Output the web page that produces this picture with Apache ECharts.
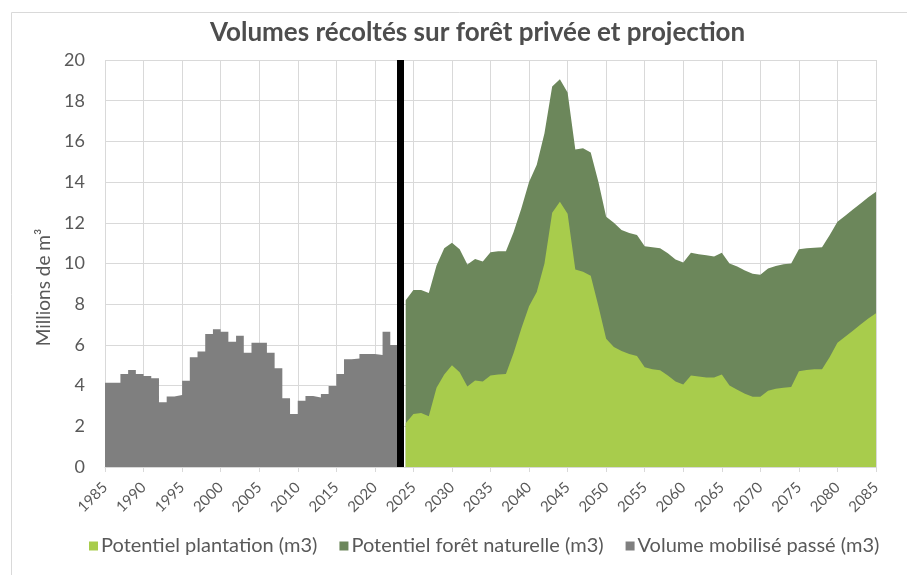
<!DOCTYPE html>
<html>
<head>
<meta charset="utf-8">
<title>Volumes récoltés sur forêt privée et projection</title>
<script src="https://cdn.jsdelivr.net/npm/echarts@6/dist/echarts.min.js"></script>
<style>
  html, body { margin: 0; padding: 0; background: #fff; }
  #chart { width: 907px; height: 575px; }
</style>
</head>
<body>
<div id="chart"></div>
<script>
// historique : 1985 -> 2023 (le dernier point ferme la marche de 2022)
const histStart = 1985
const histValues = [
  4.14, 4.14, 4.57, 4.77, 4.57, 4.47, 4.36, 3.18, 3.46, 3.54,
  4.24, 5.39, 5.67, 6.54, 6.77, 6.65, 6.16, 6.45, 5.62, 6.11,
  6.11, 5.62, 4.85, 3.38, 2.60, 3.26, 3.49, 3.42, 3.59, 3.98,
  4.57, 5.29, 5.33, 5.55, 5.55, 5.50, 6.65, 6.00, 6.00
]

// projection : 2024 -> 2085
const projStart = 2024
const plantation = [
  2.15, 2.60, 2.65, 2.50, 3.90, 4.55, 5.00, 4.65, 3.95, 4.25,
  4.20, 4.50, 4.55, 4.57, 5.60, 6.80, 7.90, 8.60, 10.00, 12.50,
  13.04, 12.45, 9.70, 9.60, 9.40, 7.90, 6.30, 5.90, 5.70, 5.55,
  5.45, 4.90, 4.80, 4.75, 4.50, 4.20, 4.05, 4.50, 4.45, 4.40,
  4.40, 4.55, 4.00, 3.80, 3.60, 3.45, 3.45, 3.75, 3.85, 3.90,
  3.93, 4.70, 4.77, 4.80, 4.80, 5.40, 6.10, 6.40, 6.70, 7.00,
  7.30, 7.55
]
const naturelle = [
  6.05, 6.10, 6.05, 6.05, 6.00, 6.20, 6.02, 6.05, 6.00, 5.97,
  5.90, 6.05, 6.05, 6.03, 5.95, 5.90, 6.10, 6.25, 6.40, 6.20,
  6.01, 5.95, 5.90, 6.06, 6.05, 6.10, 6.00, 6.10, 5.95, 5.95,
  5.95, 5.95, 6.00, 6.00, 6.00, 6.00, 6.00, 6.03, 6.00, 6.00,
  5.95, 5.98, 6.00, 6.05, 6.05, 6.05, 6.00, 6.00, 6.03, 6.06,
  6.07, 6.00, 5.98, 5.98, 6.00, 6.00, 5.95, 5.95, 5.95, 5.95,
  5.95, 5.98
]

const cutYear = 2023.35 // trait noir : fin de l'historique
const names = ['Potentiel plantation (m3)', 'Potentiel forêt naturelle (m3)', 'Volume mobilisé passé (m3)']
const colors = ['#a8cc4c', '#6c875b', '#7f7f7f']

const histData = histValues.map((v, i) => [histStart + i, v])
const plantData = plantation.map((v, i) => [projStart + i, v])
// forêt naturelle empilée au-dessus des plantations (axe x en valeurs -> cumul fait ici)
const natTopData = naturelle.map((v, i) => [projStart + i, +(plantation[i] + v).toFixed(2)])

const font = 'Lato, "Open Sans", sans-serif'
const chart = echarts.init(document.getElementById('chart'))
chart.setOption({
  animation: false,
  textStyle: { fontFamily: font },
  graphic: [{
    type: 'rect',
    left: 9, top: 10,
    shape: { width: 905, height: 575 },
    style: { fill: 'none', stroke: '#d9d9d9', lineWidth: 1 },
    silent: true
  }],
  title: {
    text: 'Volumes récoltés sur forêt privée et projection',
    left: 205,
    top: 15,
    textStyle: { fontFamily: font, fontSize: 26, fontWeight: 'bold', color: '#4d4d4d' }
  },
  legend: {
    bottom: 14,
    left: 84,
    icon: 'rect',
    itemWidth: 9,
    itemHeight: 9,
    itemGap: 22,
    data: names,
    textStyle: { fontFamily: font, fontSize: 20, color: '#595959', padding: [0, 0, 0, -2] }
  },
  grid: { left: 105, right: 31, top: 60, bottom: 108 },
  xAxis: {
    type: 'value',
    min: 1985,
    max: 2085,
    interval: 5,
    axisLine: { lineStyle: { color: '#d9d9d9' } },
    axisTick: { show: true, length: 5, lineStyle: { color: '#d9d9d9' } },
    axisLabel: {
      rotate: 45, fontSize: 15, color: '#595959', margin: 18, fontFamily: font,
      formatter: v => String(v)
    },
    splitLine: { show: true, lineStyle: { color: '#d9d9d9' } }
  },
  yAxis: {
    type: 'value',
    min: 0,
    max: 20,
    interval: 2,
    name: 'Millions de m³',
    nameLocation: 'middle',
    nameGap: 52,
    nameTextStyle: { fontSize: 19, color: '#595959', fontFamily: font, padding: [0, 48, 0, 0] },
    axisLine: { show: false },
    axisTick: { show: false },
    axisLabel: { fontSize: 18, color: '#595959', margin: 20, fontFamily: font },
    splitLine: { lineStyle: { color: '#d9d9d9' } }
  },
  series: [
    {
      name: names[1],
      type: 'line',
      data: natTopData,
      symbol: 'none',
      z: 2,
      lineStyle: { width: 0 },
      itemStyle: { color: colors[1] },
      areaStyle: { color: colors[1], opacity: 1 }
    },
    {
      name: names[0],
      type: 'line',
      data: plantData,
      symbol: 'none',
      z: 3,
      lineStyle: { width: 0 },
      itemStyle: { color: colors[0] },
      areaStyle: { color: colors[0], opacity: 1 }
    },
    {
      name: names[2],
      type: 'line',
      step: 'end',
      data: histData,
      symbol: 'none',
      lineStyle: { width: 0 },
      itemStyle: { color: colors[2] },
      areaStyle: { color: colors[2], opacity: 1 },
      markLine: {
        silent: true,
        symbol: ['none', 'none'],
        label: { show: false },
        lineStyle: { color: '#000', width: 7, type: 'solid' },
        data: [{ xAxis: cutYear }]
      }
    }
  ]
})
</script>
</body>
</html>
